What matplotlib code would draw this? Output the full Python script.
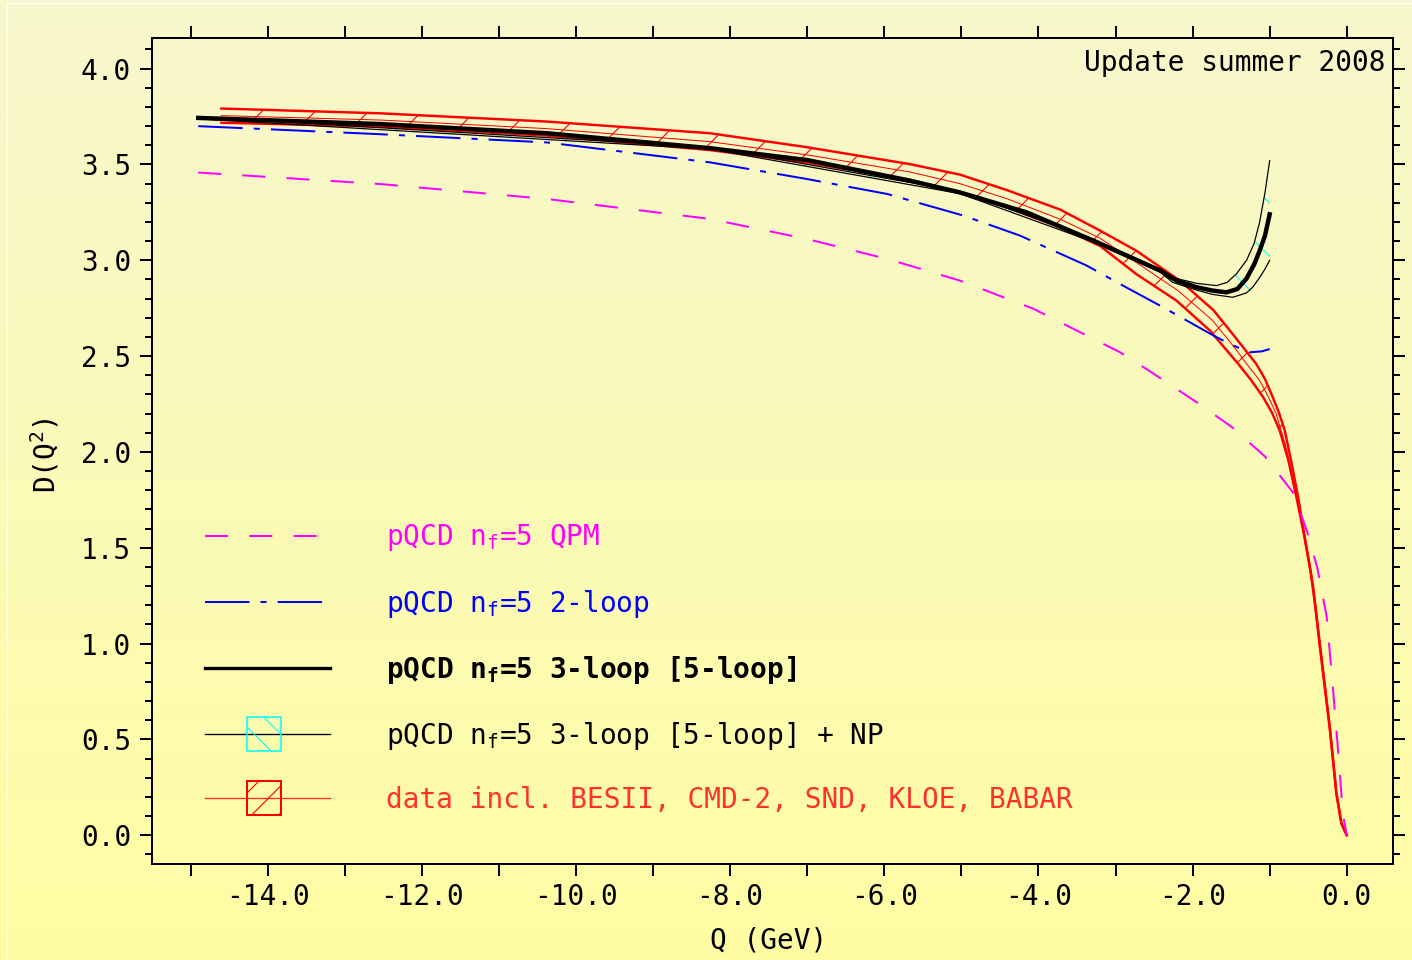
import numpy as np
import matplotlib
matplotlib.use("Agg")
import matplotlib.pyplot as plt
from matplotlib.colors import LinearSegmentedColormap
from matplotlib.lines import Line2D
from matplotlib.patches import Patch, Rectangle
from matplotlib.legend_handler import HandlerPatch, HandlerTuple
from matplotlib.ticker import MultipleLocator, FormatStrFormatter

plt.rcParams['font.family'] = ['DejaVu Sans Mono']
plt.rcParams['axes.unicode_minus'] = False
plt.rcParams['lines.scale_dashes'] = False
plt.rcParams['hatch.linewidth'] = 0.5

# pQCD nf=5 QPM (magenta, dashed)
qpm_q = [-14.9, -12.54, -10.375, -8.26, -7.0, -5.96, -5.017, -4.07, -2.94, -2.55, -1.95,
         -1.49, -1.06, -0.70, -0.51, -0.385, -0.26, -0.18, -0.11, -0.05, 0.0]
qpm_d = [3.458, 3.398, 3.32, 3.216, 3.111, 3.007, 2.894, 2.748, 2.52, 2.42, 2.26,
         2.13, 1.976, 1.79, 1.58, 1.40, 1.14, 0.77, 0.43, 0.11, 0.0]

# pQCD nf=5 2-loop (blue, dash-dot)
loop2_q = [-14.9, -12.54, -10.375, -8.26, -7.0, -5.96, -4.97, -4.24, -3.376, -2.94, -2.424,
           -1.74, -1.5, -1.26, -1.1, -1.0]
loop2_d = [3.70, 3.658, 3.615, 3.511, 3.424, 3.346, 3.233, 3.129, 2.973, 2.876, 2.764,
           2.61, 2.56, 2.52, 2.525, 2.537]

# pQCD nf=5 3-loop [5-loop] (black, thick)
loop3_q = [-14.9, -12.54, -10.375, -8.26, -7.0, -5.67, -5.017, -4.152, -3.289, -2.424, -2.21,
           -1.95, -1.74, -1.56, -1.42, -1.30, -1.2, -1.13, -1.06, -1.0]
loop3_d = [3.743, 3.711, 3.663, 3.585, 3.523, 3.416, 3.354, 3.25, 3.103, 2.947, 2.894,
           2.86, 2.842, 2.833, 2.85, 2.905, 2.98, 3.05, 3.13, 3.24]

# 3-loop + NP band edges
np_up_q = [-14.9, -8.26, -5.017, -3.289, -2.424, -2.26, -1.95, -1.69, -1.55, -1.43, -1.30,
           -1.2, -1.13, -1.06, -1.0]
np_up_d = [3.748, 3.59, 3.36, 3.11, 2.955, 2.91, 2.88, 2.868, 2.885, 2.93, 3.0,
           3.09, 3.2, 3.355, 3.52]
np_lo_q = [-14.9, -8.26, -5.017, -3.289, -2.424, -2.26, -1.95, -1.74, -1.48, -1.3, -1.22,
           -1.13, -1.06, -1.0]
np_lo_d = [3.738, 3.58, 3.348, 3.096, 2.94, 2.885, 2.845, 2.822, 2.807, 2.83, 2.86,
           2.91, 2.955, 3.0]

# data band (red)
dat_up_q = [-14.6, -12.54, -10.375, -8.26, -7.0, -5.67, -5.017, -4.4, -3.72, -3.2, -2.73,
            -2.165, -1.73, -1.517, -1.175, -1.06, -0.96, -0.88, -0.804, -0.72, -0.631,
            -0.54, -0.436, -0.35, -0.22, -0.134, -0.069, 0.0]
dat_up_d = [3.792, 3.767, 3.724, 3.663, 3.59, 3.502, 3.447, 3.365, 3.265, 3.155, 3.05,
            2.894, 2.74, 2.634, 2.46, 2.38, 2.286, 2.205, 2.112, 1.95, 1.764,
            1.545, 1.295, 1.0, 0.565, 0.219, 0.062, 0.0]
dat_lo_q = [-14.6, -12.54, -10.375, -8.26, -7.0, -5.67, -5.017, -4.4, -3.72, -3.2, -2.73,
            -2.21, -1.776, -1.409, -1.25, -1.085, -0.97, -0.87, -0.76, -0.653, -0.56,
            -0.47, -0.41, -0.35, -0.22, -0.134, -0.069, 0.0]
dat_lo_d = [3.718, 3.698, 3.651, 3.575, 3.51, 3.42, 3.354, 3.275, 3.172, 3.075, 2.928,
            2.79, 2.634, 2.46, 2.38, 2.286, 2.205, 2.112, 1.96, 1.764, 1.58,
            1.38, 1.20, 0.99, 0.555, 0.216, 0.06, 0.0]
dat_mid_q = [-14.6, -12.54, -10.375, -8.26, -7.0, -5.67, -5.017, -4.4, -3.72, -3.2, -2.73,
             -2.19, -1.75, -1.46, -1.30, -1.13, -1.02, -0.915, -0.79, -0.642, -0.55,
             -0.455, -0.40, -0.35, -0.22, -0.134, -0.069, 0.0]
dat_mid_d = [3.755, 3.732, 3.687, 3.619, 3.55, 3.461, 3.40, 3.32, 3.215, 3.115, 2.989,
             2.842, 2.69, 2.547, 2.46, 2.373, 2.29, 2.199, 2.03, 1.764, 1.56,
             1.35, 1.19, 0.995, 0.56, 0.218, 0.061, 0.0]

labels = ['pQCD n$_\\mathregular{f}$=5 QPM',
          'pQCD n$_\\mathregular{f}$=5 2-loop',
          'pQCD n$_\\mathregular{f}$=5 3-loop [5-loop]',
          'pQCD n$_\\mathregular{f}$=5 3-loop [5-loop] + NP',
          'data incl. BESII, CMD-2, SND, KLOE, BABAR']
label_colors = ['#ff00ff', '#0000ff', 'black', 'black', '#ff3030']

fs = 12.5

fig = plt.figure(figsize=(8.825, 6.0), dpi=160)

# yellow gradient background
bg = fig.add_axes([0, 0, 1, 1], zorder=-10)
cmap = LinearSegmentedColormap.from_list('bg', ['#f7f7cd', '#fffda3'])
bg.imshow(np.linspace(0, 1, 256).reshape(-1, 1), aspect='auto', cmap=cmap,
          extent=[0, 1, 0, 1], origin='upper')
bg.axis('off')
fig.add_artist(Line2D([7 / 1412, 1], [1 - 3 / 960] * 2, transform=fig.transFigure,
                      color='white', lw=0.6))
fig.add_artist(Line2D([7 / 1412] * 2, [0, 1 - 3 / 960], transform=fig.transFigure,
                      color='white', lw=0.6))

ax = fig.add_axes([152 / 1412, 96 / 960, 1241 / 1412, 826 / 960])
ax.set_facecolor('none')

# data band
ax.fill(np.r_[dat_up_q, dat_lo_q[::-1]], np.r_[dat_up_d, dat_lo_d[::-1]],
        facecolor='none', edgecolor='red', hatch='/', linewidth=0)
ax.plot(dat_up_q, dat_up_d, color='red', lw=1.1)
ax.plot(dat_lo_q, dat_lo_d, color='red', lw=1.1)
ax.plot(dat_mid_q, dat_mid_d, color='red', lw=0.45)

# curves
ax.plot(qpm_q, qpm_d, color='#ff00ff', lw=0.9, dashes=(10.4, 9.5))
ax.plot(loop2_q, loop2_d, color='#0000ff', lw=0.9, dashes=(20, 5, 2.7, 5))

# NP band
ax.fill(np.r_[np_up_q, np_lo_q[::-1]], np.r_[np_up_d, np_lo_d[::-1]],
        facecolor='none', edgecolor='cyan', hatch='\\', linewidth=0)
ax.plot(np_up_q, np_up_d, color='black', lw=0.55)
ax.plot(np_lo_q, np_lo_d, color='black', lw=0.55)
ax.plot(loop3_q, loop3_d, color='black', lw=2.0)

ax.set_xlim(-15.5, 0.6)
ax.set_ylim(-0.15, 4.16)

ax.xaxis.set_major_locator(MultipleLocator(2))
ax.xaxis.set_minor_locator(MultipleLocator(1))
ax.yaxis.set_major_locator(MultipleLocator(0.5))
ax.yaxis.set_minor_locator(MultipleLocator(0.1))
ax.xaxis.set_major_formatter(FormatStrFormatter('%.1f'))
ax.yaxis.set_major_formatter(FormatStrFormatter('%.1f'))
ax.tick_params(which='both', direction='out', top=True, right=True, width=0.9,
               labelsize=fs)
ax.tick_params(axis='x', which='both', length=5.4, pad=3)
ax.tick_params(axis='y', which='major', length=5.4, pad=4)
ax.tick_params(axis='y', which='minor', length=3.2)
for s in ax.spines.values():
    s.set_linewidth(0.9)

ax.text(0.9936, 0.960, 'Update summer 2008', transform=ax.transAxes,
        ha='right', va='baseline', fontsize=fs)
fig.text(45 / 1412, 0.526, 'D(Q$^\\mathregular{2}$)', rotation=90,
         ha='center', va='center', fontsize=fs)
fig.text(769 / 1412, 0.0125, 'Q (GeV)', ha='center', va='baseline', fontsize=fs)


def small_box(legend, orig_handle, xdescent, ydescent, width, height, fontsize):
    s = 1.22 * fontsize
    return Rectangle((-xdescent + width / 2 - 0.6 * s, -ydescent + height / 2 - s / 2), s, s)


handles = [
    Line2D([], [], color='#ff00ff', lw=0.9, dashes=(10.4, 9.5)),
    Line2D([], [], color='#0000ff', lw=0.9, dashes=(20, 5, 2.7, 5)),
    Line2D([], [], color='black', lw=1.5),
    (Line2D([], [], color='black', lw=0.6),
     Patch(facecolor='none', edgecolor='cyan', hatch='\\\\', lw=0.7)),
    (Line2D([], [], color='#ff3030', lw=0.6),
     Patch(facecolor='none', edgecolor='red', hatch='//', lw=0.9)),
]
leg = ax.legend(handles, labels, loc='upper left', bbox_to_anchor=(0.0427, 0.4135),
                frameon=False, fontsize=fs, handlelength=4.5, handletextpad=2.0,
                labelspacing=1.23, borderpad=0, borderaxespad=0,
                handler_map={tuple: HandlerTuple(ndivide=1, pad=0),
                             Patch: HandlerPatch(patch_func=small_box)})
for t, c in zip(leg.get_texts(), label_colors):
    t.set_color(c)
leg.get_texts()[2].set_fontweight('bold')

fig.savefig('out.png', dpi=160)
